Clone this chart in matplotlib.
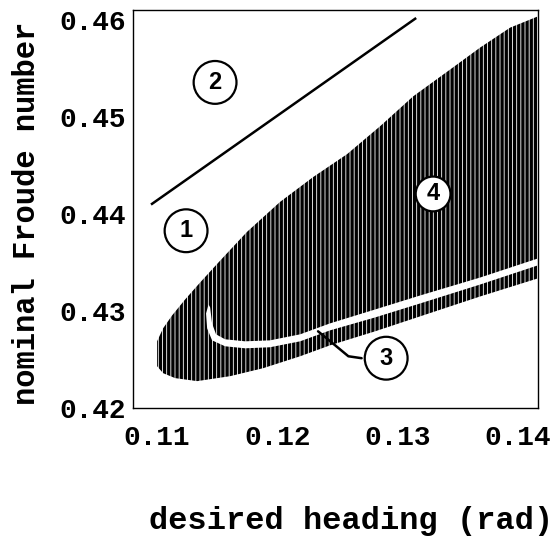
import matplotlib
matplotlib.use("Agg")
import matplotlib.pyplot as plt
import numpy as np

# values
# x: desired heading (rad), y: nominal Froude number

# straight boundary between region 1 and region 2
line_heading = [0.10958, 0.13145]
line_froude = [0.44103, 0.46010]

# upper edge of the hatched region
upper_heading = [0.1100, 0.1105, 0.11125, 0.11233, 0.11357, 0.11524, 0.11748,
                 0.12022, 0.12297, 0.12579, 0.12854, 0.13128, 0.13436,
                 0.13685, 0.13934, 0.14159]
upper_froude = [0.42687, 0.42821, 0.42954, 0.43118, 0.43292, 0.43518, 0.43815,
                0.44123, 0.44379, 0.44615, 0.44903, 0.45210, 0.45487,
                0.45713, 0.45918, 0.46031]

# lower edge of the hatched region (bottom of band 3)
lower_heading = [0.1100, 0.1105, 0.1115, 0.11333, 0.11607, 0.11881, 0.12189,
                 0.12438, 0.12812, 0.13186, 0.13685, 0.14159]
lower_froude = [0.42431, 0.42359, 0.42308, 0.42277, 0.42328, 0.42410, 0.42533,
                0.42646, 0.42790, 0.42944, 0.43149, 0.43333]

# white gap between band 3 and region 4
gap_top_heading = [0.11441, 0.11457, 0.11490, 0.11565, 0.11732, 0.11939,
                   0.12189, 0.12438, 0.12812, 0.13186, 0.13685, 0.14159]
gap_top_froude = [0.43036, 0.42872, 0.42759, 0.42708, 0.42687, 0.42697,
                  0.42759, 0.42872, 0.43015, 0.43159, 0.43344, 0.43538]
gap_bottom_heading = [0.11428, 0.11407, 0.11416, 0.11457, 0.11565, 0.11732,
                      0.11939, 0.12189, 0.12438, 0.12812, 0.13186, 0.13685,
                      0.14159]
gap_bottom_froude = [0.43067, 0.42974, 0.42821, 0.42697, 0.42636, 0.42615,
                     0.42626, 0.42687, 0.42800, 0.42933, 0.43077, 0.43272,
                     0.43467]

# circled region labels
region_labels = ["1", "2", "3", "4"]
label_heading = [0.11241, 0.11482, 0.12904, 0.13294]
label_froude = [0.43826, 0.45354, 0.42513, 0.44205]

# leader from label 3 to band 3
leader_heading = [0.12700, 0.12590, 0.12480, 0.12338]
leader_froude = [0.42513, 0.42533, 0.42646, 0.42790]

x_ticks = [0.11, 0.12, 0.13, 0.14]
y_ticks = [0.42, 0.43, 0.44, 0.45, 0.46]

plt.rcParams["hatch.linewidth"] = 2.4
mono = "Liberation Mono"

fig = plt.figure(figsize=(5.57, 5.37), dpi=100)
ax = fig.add_axes([0.2388, 0.2402, 0.7271, 0.7412])

# hatched region (outer outline)
poly_x = np.r_[upper_heading, lower_heading[::-1]]
poly_y = np.r_[upper_froude, lower_froude[::-1]]
ax.fill(poly_x, poly_y, facecolor="none", edgecolor="black",
        hatch="||||", linewidth=0)

# cut the white gap out of it
gap_x = np.r_[gap_top_heading, gap_bottom_heading[::-1]]
gap_y = np.r_[gap_top_froude, gap_bottom_froude[::-1]]
ax.fill(gap_x, gap_y, facecolor="white", edgecolor="none", linewidth=0)

ax.plot(line_heading, line_froude, color="black", lw=1.8)
ax.plot(leader_heading, leader_froude, color="black", lw=1.8,
        solid_capstyle="round")

for lab, hx, fy in zip(region_labels, label_heading, label_froude):
    pad = 0.25 if lab == "4" else 0.42
    ax.text(hx, fy, lab, ha="center", va="center", fontsize=17,
            fontweight="bold", family="Liberation Sans",
            bbox=dict(boxstyle=f"circle,pad={pad}", fc="white", ec="black",
                      lw=1.6))

ax.set_xlim(0.108, 0.14166)
ax.set_ylim(0.42, 0.461)
ax.set_xticks(x_ticks)
ax.set_yticks(y_ticks)
ax.set_xticklabels([f"{t:.2f}" for t in x_ticks], family=mono,
                   fontweight="bold", fontsize=20)
ax.set_yticklabels([f"{t:.2f}" for t in y_ticks], family=mono,
                   fontweight="bold", fontsize=20)
ax.tick_params(axis="both", length=0)
ax.tick_params(axis="x", pad=12)
ax.tick_params(axis="y", pad=5)
for sp in ax.spines.values():
    sp.set_linewidth(1.0)

ax.set_xlabel("desired heading (rad)", family=mono, fontweight="bold",
              fontsize=23, va="center")
ax.set_ylabel("nominal Froude number", family=mono, fontweight="bold",
              fontsize=22, va="center")
ax.xaxis.set_label_coords(0.538, -0.283)
ax.yaxis.set_label_coords(-0.262, 0.49)

fig.savefig("out.png", dpi=100)
